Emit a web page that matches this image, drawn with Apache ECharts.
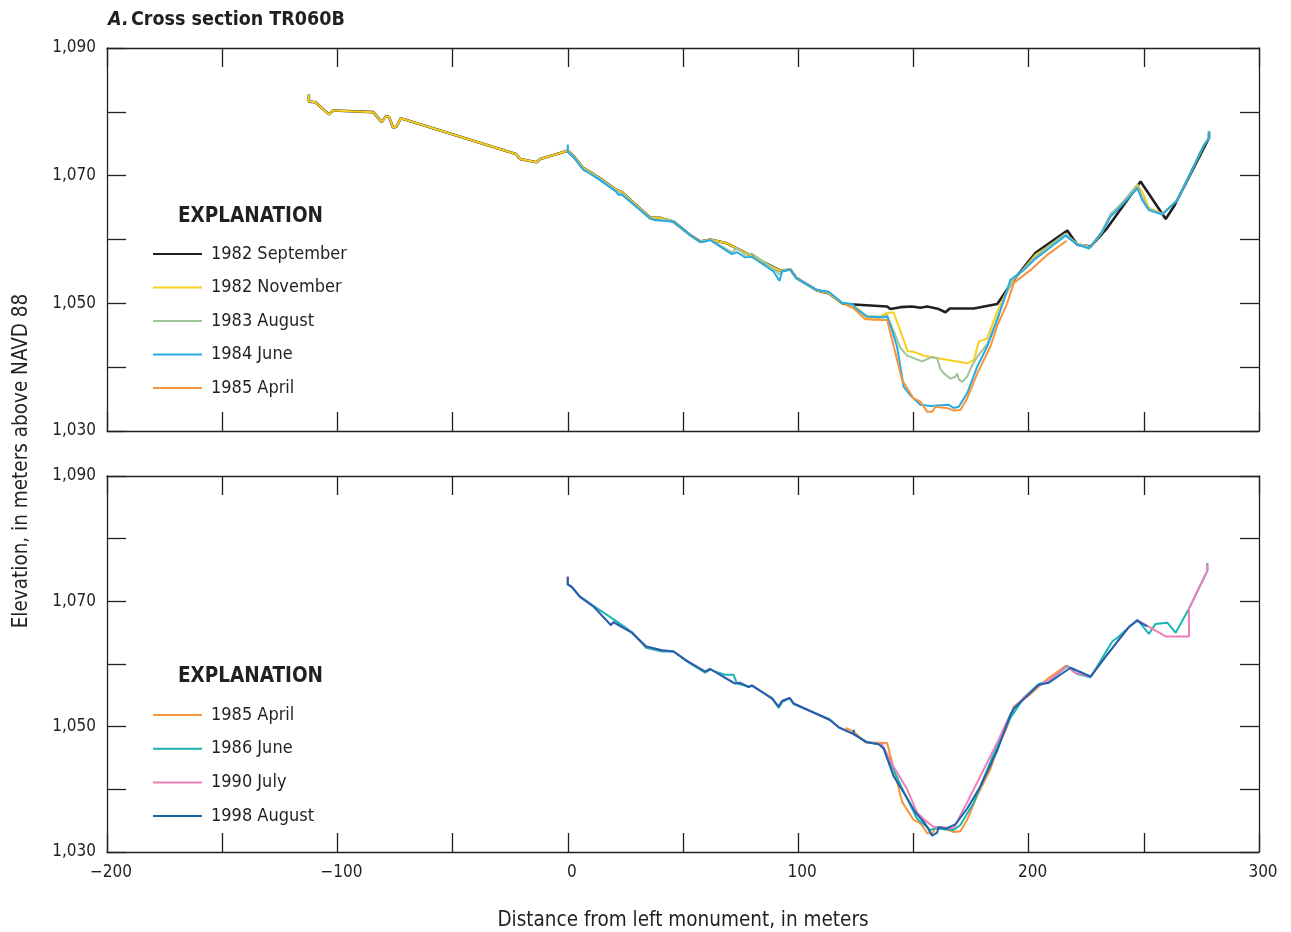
<!DOCTYPE html>
<html><head><meta charset="utf-8">
<script src="https://cdn.jsdelivr.net/npm/echarts@6/dist/echarts.min.js"></script>
<style>html,body{margin:0;padding:0;background:#fff}#c{width:1291px;height:932px}</style>
</head><body><div id="c"></div>
<script>
// ---------- DATA ----------
const xTickLabels = [-200, -100, 0, 100, 200, 300];
const yTickLabels = [1030, 1050, 1070, 1090];

const topNames = ['1982 September', '1982 November', '1983 August', '1984 June', '1985 April'];
const bottomNames = ['1985 April', '1986 June', '1990 July', '1998 August'];

const sep1982 = [[-112.4,1082.7],[-112.4,1081.6],[-109.5,1081.5],[-103.7,1079.6],[-101.8,1080.2],[-84.4,1079.95],[-80.8,1078.4],[-78.9,1079.3],[-77.6,1079.2],[-75.8,1077.5],[-74.3,1077.7],[-72.5,1079.0],[-22.5,1073.4],[-20.7,1072.6],[-13.5,1072.1],[-12,1072.6],[0,1073.9],[2.4,1073.1],[6.8,1071.2],[9.7,1070.6],[14,1069.6],[21,1067.8],[23.5,1067.4],[35.8,1063.4],[40,1063.4],[45.9,1062.8],[53.1,1060.7],[57.5,1059.7],[61.8,1060.0],[69.1,1059.4],[92.2,1055.1],[96.6,1055.3],[99.2,1054.0],[108.2,1052.0],[113.2,1051.6],[119,1050.0],[120.5,1049.9],[138.6,1049.5],[140,1049.1],[144.4,1049.4],[149.4,1049.5],[153,1049.3],[156,1049.5],[161,1049.1],[163.9,1048.6],[165.8,1049.2],[176.2,1049.2],[186.4,1049.9],[193.6,1053.7],[203,1057.9],[216.8,1061.4],[221.1,1059.2],[226.9,1058.9],[234.1,1061.8],[248.6,1069.1],[259.5,1063.2],[263.1,1065.2],[278.3,1075.9],[278.3,1076.9]];

const nov1982 = [[-112.4,1082.7],[-112.4,1081.6],[-109.5,1081.5],[-103.7,1079.6],[-101.8,1080.2],[-84.4,1079.95],[-80.8,1078.4],[-78.9,1079.3],[-77.6,1079.2],[-75.8,1077.5],[-74.3,1077.7],[-72.5,1079.0],[-22.5,1073.4],[-20.7,1072.6],[-13.5,1072.1],[-12,1072.6],[0,1073.9],[2.4,1073.1],[6.8,1071.2],[9.7,1070.6],[14,1069.6],[21,1067.8],[23.5,1067.4],[35.8,1063.4],[40,1063.4],[45.9,1062.8],[53.1,1060.7],[57.5,1059.7],[61.8,1060.0],[69.1,1059.4],[92.2,1055.1],[96.6,1055.3],[99.2,1054.0],[108.2,1052.0],[113.2,1051.6],[119,1050.0],[123.4,1049.8],[129.9,1047.7],[133.5,1047.4],[137.8,1048.4],[141.4,1048.6],[147.5,1042.5],[150.1,1042.4],[154.5,1041.8],[173.3,1040.6],[176.2,1041.1],[178.4,1044.0],[182,1044.5],[186.4,1048.7],[190,1051.5],[193.6,1053.9],[197.9,1055.4],[203,1057.6],[208.1,1058.8],[216,1060.8],[221.1,1059.3],[226.9,1058.8],[232,1061.2],[235.6,1063.8],[239.2,1065.0],[247.2,1068.6],[249.3,1067.5],[252.2,1065.0],[258,1064.0],[264.6,1066.2],[276.1,1074.8],[278.3,1075.9],[278.3,1076.9]];

const aug1983 = [[0,1074.6],[0,1073.8],[2.4,1073.0],[6.8,1071.0],[9.7,1070.4],[14,1069.5],[21,1067.6],[23.5,1067.2],[35.8,1063.2],[40,1063.1],[45.9,1062.9],[53.1,1060.6],[57.5,1059.6],[61.8,1060.0],[71.2,1058.0],[73.4,1058.6],[77,1057.6],[79.9,1057.8],[89.3,1055.4],[91.9,1054.5],[93,1055.1],[96.6,1055.4],[99.2,1054.0],[108.2,1052.0],[113.2,1051.8],[119,1050.1],[123.4,1049.8],[129.9,1048.0],[137.1,1047.9],[138.6,1048.2],[140.7,1046.3],[144.4,1043.0],[147.3,1041.8],[153.8,1040.9],[158.1,1041.6],[160.3,1041.4],[161.7,1039.7],[163.9,1038.8],[166.1,1038.2],[168.2,1038.5],[169,1039.0],[169.7,1038.1],[171.2,1037.7],[173.3,1038.5],[175.5,1040.3],[177.7,1041.6],[182,1043.6],[186.4,1047.6],[190,1051.2],[193.6,1053.8],[197.9,1055.4],[203,1057.3],[208.1,1058.8],[216,1060.9],[221.1,1059.3],[226.9,1058.8],[232,1061.4],[235.6,1064.0],[239.2,1065.2],[247.2,1068.5],[249.3,1066.6],[252.2,1064.8],[258,1064.0],[264.6,1066.2],[276.1,1074.8],[278.3,1075.9],[278.3,1076.9]];

const jun1984 = [[0,1074.9],[0,1073.7],[2.4,1072.9],[6.8,1070.9],[9.7,1070.3],[14,1069.3],[21,1067.5],[22,1067.0],[23.5,1067.0],[35.8,1063.3],[37.9,1063.0],[45.9,1062.8],[53.1,1060.7],[57.5,1059.6],[59.6,1059.7],[61.8,1059.9],[71.2,1057.7],[73.4,1058.0],[77,1057.2],[79.9,1057.3],[89.3,1055.0],[91.9,1053.5],[93,1055.0],[96.6,1055.3],[99.2,1053.9],[108.2,1052.1],[113.2,1051.8],[119,1050.1],[123.4,1049.9],[124.8,1049.2],[129.9,1047.9],[137.1,1047.8],[138.6,1047.9],[140.7,1045.8],[142.9,1043.2],[145.8,1036.9],[148.7,1035.6],[153,1034.1],[157.4,1033.9],[165.3,1034.1],[167.5,1033.6],[169.7,1033.8],[173.3,1035.9],[177.7,1040.1],[182,1043.2],[186.4,1047.4],[192.1,1053.7],[197.9,1055.2],[202.3,1056.8],[208.1,1058.4],[216,1060.6],[221.1,1059.2],[226.2,1058.6],[232,1061.2],[235.6,1063.6],[239.2,1064.9],[247.2,1068.0],[249.3,1066.2],[250,1066.5],[252.2,1064.6],[258,1063.9],[264.6,1066.2],[276.1,1074.8],[278.3,1075.9],[278.3,1076.9]];

const apr1985 = [[120.5,1049.8],[124.1,1049.2],[129.1,1047.5],[137.1,1047.4],[138.6,1047.4],[145.1,1038.0],[150.1,1035.1],[153,1034.6],[156,1033.0],[158.1,1033.0],[159.6,1033.8],[161.7,1033.7],[164.6,1033.6],[167.5,1033.2],[170.4,1033.3],[173.3,1035.1],[177.7,1039.0],[183.4,1043.2],[186.4,1046.5],[190.7,1050.0],[193.6,1053.2],[200.8,1055.2],[208.1,1057.6],[216.5,1059.8]];

const jun1986 = [[0,1073.9],[0,1072.7],[1.7,1072.3],[5.3,1070.8],[11.1,1069.3],[22,1066.6],[27.8,1065.1],[34,1062.6],[40.8,1062.0],[45.9,1062.0],[51.7,1060.4],[59.6,1058.6],[61.8,1059.1],[68,1058.3],[71.9,1058.3],[73.4,1056.9],[78.5,1056.4],[80,1056.5],[88.6,1054.6],[91.5,1053.0],[93,1053.9],[96.3,1054.5],[98,1053.6],[113.6,1051.2],[117.6,1049.9],[124.1,1048.8],[129.9,1047.5],[135.7,1047.2],[137.1,1046.6],[144.4,1040.7],[151.6,1035.3],[157.4,1033.5],[159.6,1033.8],[167.5,1033.5],[170.4,1034.3],[176.2,1037.9],[184.9,1045.7],[192.1,1051.4],[197.9,1054.6],[204.4,1056.8],[208.8,1057.2],[216.8,1059.7],[221.1,1058.4],[226.9,1057.9],[236.3,1063.6],[239.2,1064.4],[247.2,1067.1],[252.2,1064.8],[255.1,1066.4],[260.2,1066.6],[263.8,1065.0],[269.6,1068.8],[277.6,1074.9],[277.6,1076.1]];

const jul1990 = [[0,1074.0],[0,1072.7],[1.7,1072.3],[5.3,1070.7],[11.1,1069.2],[18.7,1066.2],[19.8,1066.7],[27.8,1065.0],[34,1062.8],[40.8,1062.2],[45.9,1062.0],[51.7,1060.5],[59.6,1058.8],[61.8,1059.2],[72.4,1056.9],[74.8,1057.0],[78.5,1056.3],[79.9,1056.6],[88.6,1054.5],[91.5,1053.2],[93,1054.1],[96.3,1054.6],[98,1053.7],[113.6,1051.1],[117.6,1049.9],[124.1,1048.8],[129.9,1047.5],[136.4,1047.2],[141.4,1043.6],[147.3,1040.0],[151.6,1036.3],[155.2,1035.0],[158.8,1034.0],[160.3,1034.0],[167.5,1033.8],[173.3,1037.9],[186.4,1047.5],[190.7,1050.9],[193.6,1053.0],[197.9,1054.6],[204.4,1056.6],[208.8,1057.4],[216.8,1059.6],[220,1058.6],[226.9,1058.0],[234.1,1061.5],[243.5,1065.9],[247.2,1067.0],[259.5,1064.4],[269.6,1064.4],[269.6,1068.8],[277.6,1074.9],[277.6,1076.0]];

const aug1998 = [[0,1073.9],[0,1072.7],[1.7,1072.3],[5.3,1070.7],[11.1,1069.2],[18.7,1066.2],[19.8,1066.7],[27.8,1065.0],[34,1062.8],[40.8,1062.2],[45.9,1062.0],[51.7,1060.5],[59.6,1058.8],[61.8,1059.2],[72.4,1056.9],[74.8,1057.0],[78.5,1056.3],[79.9,1056.6],[88.6,1054.5],[91.5,1053.2],[93,1054.1],[96.3,1054.6],[98,1053.7],[113.6,1051.1],[117.6,1049.9],[124.1,1048.8],[124.1,1049.5],[124.1,1048.8],[129.9,1047.5],[134.9,1047.2],[135.7,1047.1],[137.1,1046.5],[141.4,1042.1],[145.8,1039.5],[150.9,1036.3],[154.5,1034.8],[156,1034.0],[158.1,1032.6],[160.3,1033.1],[161,1034.0],[161.7,1034.3],[163.9,1033.7],[168.2,1034.4],[173.3,1036.9],[179.1,1040.5],[186.4,1046.2],[192.1,1051.9],[193.6,1052.9],[197.9,1054.4],[204.4,1056.7],[208.8,1057.0],[218.2,1059.4],[226.9,1058.0],[234.1,1061.5],[243.5,1065.9],[247.2,1066.9],[251.5,1066.0]];

// ---------- STYLE ----------
const FONT = '"Liberation Sans Narrow","DejaVu Sans Condensed","Liberation Sans",sans-serif';
const INK = '#231f20';
const colors = {
  '1982 September': '#231f20', '1982 November': '#f7cf1e', '1983 August': '#9fc39b',
  '1984 June': '#29abe2', '1985 April': '#f7943c', '1986 June': '#1ab5b1',
  '1990 July': '#ef7fb8', '1998 August': '#1c62ad'
};

function fmtX(v) { return xTickLabels.indexOf(v) >= 0 ? (v < 0 ? '\u2212' + Math.abs(v) : String(v)) : ''; }
function fmtY(v) { return yTickLabels.indexOf(v) >= 0 ? v.toLocaleString('en-US') : ''; }

const axLine = { show: true, onZero: false, lineStyle: { color: INK, width: 1.3 } };
const tick = { show: true, inside: true, length: 19, lineStyle: { color: INK, width: 1.3 } };

function xAx(grid, pos, labels) {
  return {
    type: 'value', gridIndex: grid, position: pos, min: -200, max: 300, interval: 50,
    axisLine: axLine, axisTick: tick, splitLine: { show: false },
    axisLabel: { show: labels, formatter: fmtX, fontFamily: FONT, fontSize: 17, color: INK, margin: 12, padding: [0, 0, 0, 8] },
    name: labels ? 'Distance from left monument, in meters' : '',
    nameLocation: 'middle', nameGap: 58,
    nameTextStyle: { fontFamily: FONT, fontSize: 20.5, color: INK }
  };
}
function yAx(grid, pos, labels) {
  return {
    type: 'value', gridIndex: grid, position: pos, min: 1030, max: 1090, interval: 10,
    axisLine: axLine, axisTick: tick, splitLine: { show: false },
    axisLabel: { show: labels, formatter: fmtY, fontFamily: FONT, fontSize: 17, color: INK, margin: 11 }
  };
}

function line(name, data, xi, yi, w) {
  return {
    type: 'line', name: name, data: data, xAxisIndex: xi, yAxisIndex: yi,
    showSymbol: false, symbol: 'none', silent: true, animation: false,
    lineStyle: { color: colors[name], width: w || 2 }, itemStyle: { color: colors[name] }
  };
}

const legendText = { fontFamily: FONT, fontSize: 18, color: INK, lineHeight: 20, padding: [0, 0, 0, 4] };

const option = {
  animation: false,
  grid: [
    { left: 107, right: 32, top: 48, height: 383 },
    { left: 107, right: 32, top: 476, height: 385 }
  ],
  xAxis: [xAx(0, 'bottom', false), xAx(0, 'top', false), xAx(1, 'bottom', true), xAx(1, 'top', false)],
  yAxis: [yAx(0, 'left', true), yAx(0, 'right', false), yAx(1, 'left', true), yAx(1, 'right', false)],
  legend: [
    { data: topNames, orient: 'vertical', left: 148, top: 239, icon: 'rect', itemWidth: 49, itemHeight: 2, itemGap: 13.5, textStyle: legendText, selectedMode: false },
    { data: bottomNames, orient: 'vertical', left: 148, top: 700, icon: 'rect', itemWidth: 49, itemHeight: 2, itemGap: 13.7, textStyle: legendText, selectedMode: false }
  ],
  graphic: [
    { type: 'text', left: 108, top: 10, style: { text: 'A.', font: 'italic bold 19.5px ' + FONT, fill: INK } },
    { type: 'text', left: 131, top: 10, style: { text: 'Cross section TR060B', font: 'bold 19.5px ' + FONT, fill: INK } },
    { type: 'text', left: 178, top: 206, style: { text: 'EXPLANATION', font: 'bold 20.5px ' + FONT, fill: INK } },
    { type: 'text', left: 178, top: 666, style: { text: 'EXPLANATION', font: 'bold 20.5px ' + FONT, fill: INK } },
    { type: 'text', x: 22, y: 461, rotation: Math.PI / 2, style: { text: 'Elevation, in meters above NAVD 88', font: '20.5px ' + FONT, fill: INK, align: 'center', verticalAlign: 'middle' } }
  ],
  series: [
    line('1982 September', sep1982, 0, 0, 2.6),
    line('1982 November', nov1982, 0, 0, 2),
    line('1983 August', aug1983, 0, 0, 2),
    line('1984 June', jun1984, 0, 0, 2),
    line('1985 April', apr1985, 0, 0, 2),
    line('1985 April', apr1985, 2, 2, 2),
    line('1986 June', jun1986, 2, 2, 2),
    line('1990 July', jul1990, 2, 2, 2),
    line('1998 August', aug1998, 2, 2, 2)
  ]
};
echarts.init(document.getElementById('c'), null, { renderer: 'canvas' }).setOption(option);
</script></body></html>
